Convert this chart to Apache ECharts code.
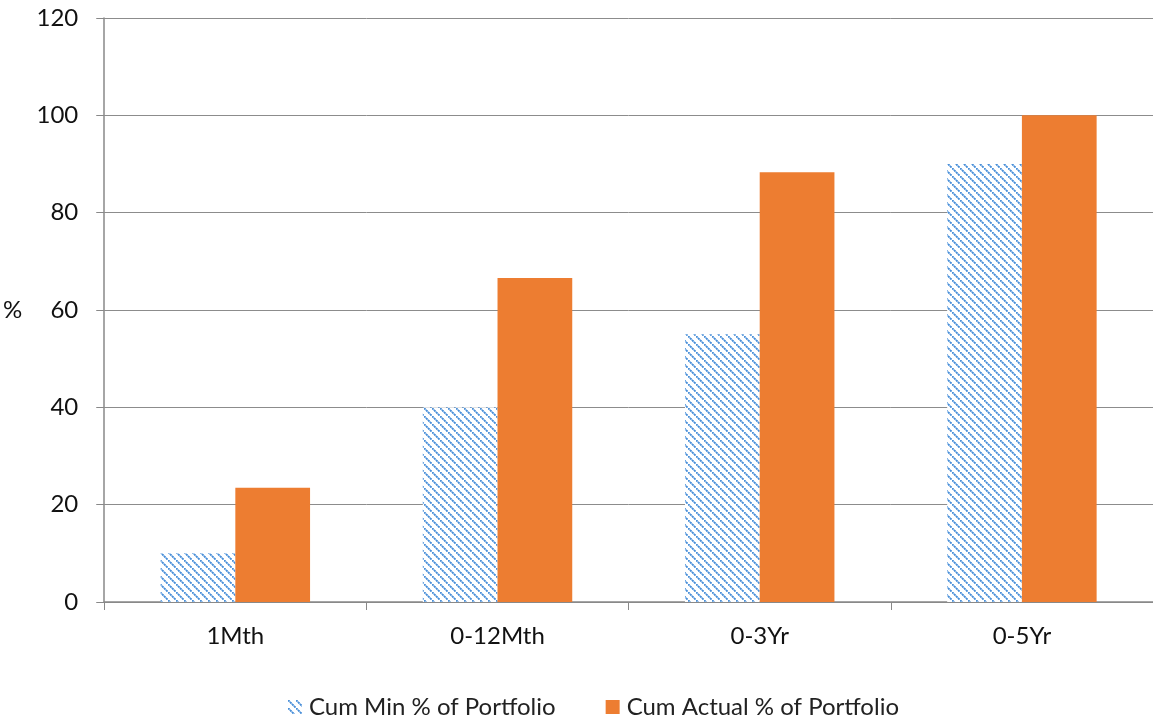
<!DOCTYPE html>
<html><head><meta charset="utf-8">
<script src="https://cdn.jsdelivr.net/npm/echarts@6/dist/echarts.min.js"></script>
<style>html,body{margin:0;padding:0;background:#fff}#c{width:1153px;height:726px}</style>
</head><body><div id="c"></div>
<script>
var categories = ['1Mth', '0-12Mth', '0-3Yr', '0-5Yr'];
var cumMin = [10, 40, 55, 90];
var cumActual = [23.5, 66.6, 88.3, 100];
var seriesNames = ['Cum Min % of Portfolio', 'Cum Actual % of Portfolio'];

function hatch() {
  var c = document.createElement('canvas');
  c.width = 8; c.height = 8;
  var g = c.getContext('2d');
  g.fillStyle = '#ffffff'; g.fillRect(0, 0, 8, 8);
  for (var i = 0; i < 8; i++) {
    g.fillStyle = (i % 2 === 0) ? '#4a8fd8' : '#8fbbea';
    g.fillRect(i, i, 1.8, 1.8);
  }
  return c;
}
var pat = { image: hatch(), repeat: 'repeat' };
var font = 'Lato, "Open Sans", sans-serif';

var chart = echarts.init(document.getElementById('c'));
chart.setOption({
  animation: false,
  textStyle: { fontFamily: font },
  grid: { left: 104, top: 18, width: 1056, height: 584 },
  legend: {
    bottom: 2, left: 283, itemWidth: 14, itemHeight: 14, itemGap: 50,
    textStyle: { fontSize: 24, color: '#222', fontFamily: font, padding: [0, 0, 0, 2] },
    data: [
      { name: seriesNames[0], icon: 'rect', itemStyle: { color: pat } },
      { name: seriesNames[1], icon: 'rect' }
    ]
  },
  xAxis: {
    type: 'category', data: categories,
    axisLine: { lineStyle: { color: '#888', width: 1.5 } },
    axisTick: { show: true, length: 8, lineStyle: { color: '#888' } },
    axisLabel: { fontSize: 24, color: '#111', margin: 22, fontFamily: font }
  },
  yAxis: {
    type: 'value', min: 0, max: 120, interval: 20,
    name: '%', nameLocation: 'middle', nameRotate: 0, nameGap: 82,
    nameTextStyle: { fontSize: 24, color: '#111', fontFamily: font },
    axisLine: { show: true, lineStyle: { color: '#888', width: 1.5 } },
    axisTick: { show: true, length: 8, lineStyle: { color: '#888' } },
    splitLine: { lineStyle: { color: '#8c8c8c', width: 1 } },
    axisLabel: { fontSize: 24, color: '#111', margin: 26, fontFamily: font }
  },
  series: [
    { name: seriesNames[0], type: 'bar', data: cumMin, barWidth: '28.5%', barGap: '0%',
      itemStyle: { color: pat } },
    { name: seriesNames[1], type: 'bar', data: cumActual, barWidth: '28.5%',
      itemStyle: { color: '#ed7d31' } }
  ]
});
</script></body></html>
